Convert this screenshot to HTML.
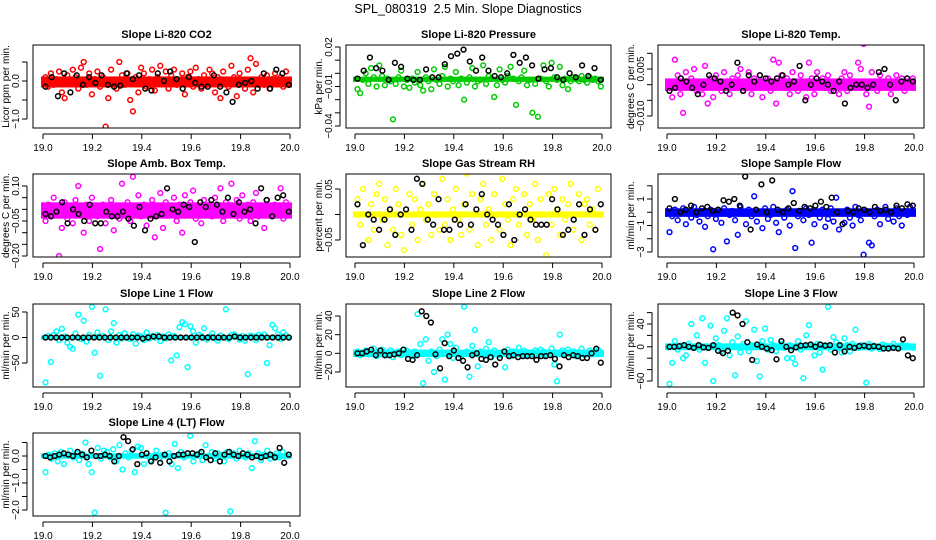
<!DOCTYPE html>
<html><head><meta charset="utf-8">
<style>
html,body{margin:0;padding:0;background:#fff;}
svg{display:block;font-family:"Liberation Sans",sans-serif;}
.t{font-size:11px;font-weight:bold;text-anchor:middle;}
.ax{font-size:10px;}
</style></head>
<body>
<svg id="chart" width="936" height="540" viewBox="0 0 936 540">
<text x="468" y="13" text-anchor="middle" font-size="12.5" xml:space="preserve" style="white-space:pre">SPL_080319  2.5 Min. Slope Diagnostics</text>
</svg>
<script>
// ---- data (estimated from reference) ----
const xTicks = [19.0, 19.2, 19.4, 19.6, 19.8, 20.0];
const xTickLabels = ["19.0", "19.2", "19.4", "19.6", "19.8", "20.0"];

// dense core band of each colored series: [low, high]
const co2Band = [-0.17, 0.12];
const presBand = [-0.0065, -0.0025];
const tempBand = [-0.002, 0.002];
const ambBand = [-0.04, 0.03];
const rhBand = [-0.006, 0.006];
const sfBand = [-0.35, 0.3];
const l1Band = [-4, 4];
const l2Band = [-4, 4];
const l3Band = [-6, 6];
const l4Band = [-0.1, 0.1];

const co2Vals = [0.1,-0.15,0.2,-0.1,0.05,0.25,-0.3,-0.45,0.15,-0.05,0.3,0.1,-0.2,0.35,0.5,-0.1,0.2,-0.35,0.05,0.25,-0.15,0.1,-1.2,-0.45,0.3,0.0,-0.2,0.5,0.15,-0.1,0.2,-0.5,-0.8,0.1,-0.3,0.35,0.2,-0.15,0.05,0.3,-0.25,0.1,0.4,-0.05,0.25,-0.2,0.15,0.3,-0.1,0.0,0.2,-0.35,0.1,0.25,-0.15,0.35,0.05,-0.2,0.15,-0.1,0.3,0.2,-0.3,0.1,-0.45,0.25,0.0,-0.15,0.4,0.1,-0.4,0.2,1.15,-0.2,0.3,0.6,-0.3,0.45,-0.1,0.1,-0.1,0.15,-0.2,0.05,0.2,-0.05,0.1,-0.15,0.25,-0.1];
const co2Black = [-0.15,0.1,-0.4,0.2,-0.3,0.15,-0.1,0.1,-0.05,0.15,-0.1,-0.15,-0.12,0.2,0.05,0.15,-0.2,-0.25,0.2,0.0,0.25,0.05,-0.2,0.1,-0.05,-0.15,-0.15,0.15,-0.15,-0.3,-0.55,-0.1,-0.05,0.0,-0.2,0.2,-0.2,0.3,0.2,-0.1];

const presVals = [-0.012,-0.015,-0.005,0.0,-0.008,0.004,-0.003,-0.01,0.006,-0.002,-0.009,-0.004,-0.006,-0.035,-0.008,-0.003,0.002,-0.01,-0.005,-0.011,-0.004,-0.007,0.001,-0.009,-0.013,-0.003,-0.006,-0.012,0.003,-0.005,-0.008,-0.002,0.005,-0.01,-0.004,-0.006,0.001,-0.009,-0.004,-0.02,-0.007,-0.003,0.004,-0.01,-0.006,-0.005,0.006,-0.008,-0.002,-0.004,-0.018,-0.009,0.003,-0.005,-0.007,-0.002,0.005,-0.004,-0.024,-0.006,-0.003,0.002,-0.009,-0.005,-0.03,-0.008,-0.033,-0.004,0.006,-0.006,-0.01,0.008,-0.003,-0.005,0.005,-0.009,-0.004,-0.012,-0.006,-0.003,-0.004,-0.006,-0.002,-0.005,-0.007,-0.003,-0.005,-0.004,-0.006,-0.01];
const presBlack = [-0.004,0.002,0.012,0.004,0.002,-0.005,0.008,0.005,-0.004,-0.005,-0.005,0.003,-0.003,-0.003,0.007,0.013,0.015,0.018,0.009,0.002,0.012,0.002,-0.002,-0.003,0.0,0.014,0.008,0.012,0.006,-0.004,0.003,0.004,-0.003,-0.005,0.0,-0.003,0.006,-0.002,0.004,-0.005];

const tempVals = [0.001,-0.004,0.008,0.003,-0.003,-0.009,0.004,-0.001,0.002,0.005,-0.002,0.001,-0.003,0.006,-0.006,0.002,-0.004,0.003,0.0,-0.002,0.004,0.001,-0.003,0.002,-0.001,0.003,0.005,-0.002,0.001,0.004,-0.003,0.002,0.0,0.003,-0.004,0.001,0.002,-0.002,0.008,-0.006,0.007,0.003,-0.001,0.002,-0.003,0.004,0.001,-0.002,0.003,0.0,-0.004,0.007,0.002,-0.003,0.004,0.001,0.002,-0.001,0.003,-0.002,0.001,0.0,-0.003,0.002,0.004,-0.002,0.003,0.001,-0.001,0.007,0.005,0.013,-0.003,-0.007,0.004,0.001,-0.002,0.003,0.0,0.001,0.002,-0.003,0.001,0.003,-0.001,0.002,-0.002,0.001,0.0,0.002];
const tempBlack = [-0.002,-0.001,0.002,0.001,-0.001,-0.003,0.0,0.003,0.002,0.001,-0.002,0.0,0.007,-0.002,0.003,0.001,0.003,0.002,0.001,0.002,0.003,0.0,0.001,0.006,-0.005,0.0,0.002,0.001,0.0,-0.002,0.001,-0.006,-0.001,0.0,0.0,-0.001,0.0,0.004,0.005,0.0,-0.005,0.001,0.002,0.001];

const ambVals = [-0.05,0.02,-0.03,0.05,-0.01,-0.2,-0.08,0.03,-0.04,0.01,-0.06,0.04,0.1,-0.02,-0.1,0.02,-0.05,0.05,0.0,-0.03,-0.17,0.02,-0.06,-0.01,0.04,-0.09,0.01,-0.04,0.11,-0.02,0.03,-0.05,0.14,-0.01,0.06,-0.03,0.02,-0.07,0.0,0.04,-0.12,-0.02,0.07,-0.08,0.03,-0.01,-0.24,0.05,-0.05,0.02,-0.1,0.06,-0.02,0.03,0.08,-0.04,0.01,-0.06,0.04,0.0,0.02,-0.03,0.05,-0.01,0.09,-0.05,0.03,-0.02,0.11,0.0,0.04,-0.04,0.06,-0.01,0.02,-0.05,0.03,0.07,-0.03,0.01,-0.08,0.04,0.0,-0.02,0.02,0.0,0.09,-0.04,0.03,-0.01];
const ambBlack = [-0.02,-0.03,-0.01,0.03,-0.06,0.0,-0.02,-0.05,0.02,-0.06,-0.06,-0.01,-0.03,-0.03,-0.01,-0.04,-0.07,0.01,-0.09,-0.04,-0.03,-0.02,0.09,0.0,-0.01,0.02,0.01,-0.14,0.03,0.01,0.04,0.02,-0.01,0.05,-0.02,0.03,-0.01,0.0,-0.06,0.09,0.04,-0.03,0.05,0.06,-0.01];

const rhVals = [0.03,-0.02,0.05,0.0,-0.05,0.02,-0.03,0.04,0.06,-0.01,0.03,-0.06,0.01,-0.03,0.05,0.02,-0.04,-0.07,0.0,0.04,-0.02,0.03,-0.05,0.01,0.06,-0.01,0.02,-0.04,0.04,0.0,-0.03,0.07,-0.02,0.03,-0.05,0.01,0.05,-0.01,-0.04,0.02,0.08,-0.03,0.04,0.0,-0.06,0.03,0.06,-0.02,0.01,-0.05,0.04,0.0,-0.03,0.07,0.02,-0.01,-0.06,0.03,0.05,-0.02,0.0,0.04,-0.04,0.02,-0.01,0.06,-0.05,0.03,0.0,-0.08,0.04,-0.02,0.05,0.01,-0.04,0.03,-0.01,0.02,0.06,-0.03,0.0,0.04,-0.05,0.02,0.03,-0.02,0.01,-0.03,0.05,0.0];
const rhBlack = [0.02,-0.06,0.0,-0.01,-0.03,-0.01,0.01,-0.04,0.0,0.01,-0.03,0.07,0.06,-0.01,-0.02,0.03,-0.03,-0.03,-0.01,-0.02,0.02,-0.02,0.01,0.04,0.0,-0.01,-0.02,-0.04,0.02,-0.05,0.0,0.01,-0.01,-0.02,-0.02,-0.02,0.03,0.01,-0.04,-0.03,-0.01,0.02,-0.04,0.01,-0.03,0.02];

const sfVals = [-1.5,-0.3,0.2,-0.6,-0.1,0.3,-0.9,0.0,-0.4,0.4,-0.2,-0.7,0.1,-1.1,-0.3,0.2,-2.8,-0.5,0.0,-0.8,0.3,-2.2,-0.2,0.1,-0.6,-1.7,0.4,-0.1,-0.9,0.2,-0.3,1.2,-0.7,0.0,-1.2,0.3,-0.5,-0.2,0.4,-0.8,-1.5,0.0,-0.4,0.2,-1.0,1.6,-2.7,-0.3,0.1,-0.6,0.3,-0.2,-2.3,-0.9,0.0,-0.4,0.2,-1.1,-0.5,0.3,-0.7,1.1,-1.3,-0.1,-0.8,0.2,-0.4,-1.0,0.4,-0.2,-0.6,-3.2,0.1,-2.3,-2.5,-0.3,0.2,-0.9,-0.1,0.4,-0.5,0.0,-0.7,0.3,-0.3,-1.0,0.1,-0.2,0.4,0.0];
const sfBlack = [0.3,1.0,0.0,0.2,0.5,0.0,0.3,0.4,0.1,0.2,0.9,0.8,1.0,0.5,2.7,-1.3,0.2,2.1,0.0,2.4,0.2,0.0,0.3,0.7,0.1,0.4,0.3,0.5,0.8,0.4,1.1,0.0,-0.9,0.1,0.0,0.3,0.2,0.0,0.4,0.1,0.2,0.0,0.5,0.3,0.6,0.5];

const l1Vals = [-88,3,-48,5,12,-5,17,2,-10,-18,-22,8,45,-3,33,-8,5,60,-30,10,-75,3,55,-5,12,28,-10,5,-2,8,0,-3,6,-12,4,2,-5,10,-2,3,0,5,-7,2,-2,6,-45,3,-35,20,30,26,-58,22,12,-10,5,3,18,-4,2,8,-2,-6,4,0,55,-3,5,6,2,-4,3,-6,-72,4,2,-5,5,3,6,-50,-15,25,18,6,-3,10,4,0];
const l1Black = [0,0,0,0,0,0,0,0,0,0,0,0,0,0,0,0,0,0,-2,0,2,2,0,0,0,0,0,0,0,0,0,0,0,0,0,2,0,0,0,0,0,0,0,0,0,0];

const l2Vals = [2,-2,0,3,-1,2,5,-3,0,4,-2,1,3,-4,0,2,-2,1,3,0,-3,2,42,10,-32,15,-8,2,-20,-3,4,15,-28,20,10,-5,6,0,-3,50,2,-25,8,25,-14,2,0,5,12,-4,3,0,-2,1,-15,4,-3,2,0,6,-1,3,-2,0,-50,3,-1,4,2,-2,0,5,-12,-30,20,3,-1,4,0,2,-3,1,5,-2,0,3,-1,2,4,0];
const l2Black = [0,0,2,4,-2,3,-2,-2,-1,0,4,-6,-7,-2,45,40,33,-1,-16,11,-3,3,-5,-8,-15,-2,0,-6,-7,-4,-12,-5,2,-3,-2,-4,-3,-3,-3,-7,-3,-3,-2,-6,-14,-2,-4,-2,-3,-5,-5,0,5,-10];

const l3Vals = [-65,-28,10,-5,2,-20,-15,5,40,-2,20,-5,50,-28,-2,37,-60,15,3,-8,28,50,-15,8,-50,18,-10,5,45,-8,3,30,-25,-52,10,32,-5,12,3,-8,0,5,-2,-20,3,-20,-30,10,-5,-55,20,38,2,-15,5,-10,-40,3,70,-5,17,8,-2,-10,15,3,-8,5,30,-2,3,0,-63,5,-3,2,0,-4,4,2,-3,1,5,0,-2,3,-1,2,0,-2];
const l3Black = [0,0,1,3,0,-2,3,-1,-2,3,-7,-11,-7,60,55,40,8,-23,4,0,-3,-6,-22,10,0,-6,-1,2,3,4,0,4,2,3,-10,3,-8,0,-2,1,2,0,1,0,-3,-3,-2,-3,13,-15,-20];

const l4Vals = [-0.6,0.05,-0.1,0.1,-0.2,0.15,-0.3,0.05,0.2,-0.05,0.1,-0.15,0.08,0.5,-0.3,-0.6,-2.1,0.3,-0.1,0.2,0.15,-0.05,0.25,-0.2,0.4,-0.5,0.1,-0.05,0.2,-0.6,0.35,0.3,-0.3,0.1,-0.15,0.0,0.2,-0.1,0.05,-2.1,0.1,-0.3,0.45,-0.45,0.15,-0.05,0.1,0.75,-0.2,0.05,0.1,-0.15,0.4,0.0,0.15,-0.1,0.1,0.05,-0.2,0.15,-2.05,0.1,-0.1,0.2,0.0,-0.05,0.1,-0.45,0.55,0.1,-0.15,0.05,0.2,-0.1,0.0,0.1,-0.05,0.15,0.0,0.05];
const l4Black = [0.0,-0.05,0.0,0.05,0.1,0.05,0.0,0.15,0.05,-0.05,0.2,0.0,0.0,0.05,0.0,-0.2,0.0,0.7,0.55,0.25,-0.3,0.05,0.1,-0.2,-0.05,-0.25,0.05,-0.2,0.0,0.05,0.05,0.1,0.1,0.05,0.15,-0.05,-0.15,0.1,-0.2,0.05,0.15,0.05,0.0,0.1,0.05,-0.05,0.0,-0.05,0.0,0.05,-0.05,0.3,-0.25,0.05];

// ---- layout ----
const NS = "http://www.w3.org/2000/svg";
const svg = document.getElementById("chart");
const cols = [{x0:33,x1:300,a:43,b:290},{x0:346,x1:611,a:355,b:602},{x0:658,x1:924,a:667,b:914}];
const rows = [{y0:45,y1:128},{y0:174,y1:257},{y0:304,y1:387},{y0:433,y1:516}];

function mk(tag, attrs, parent){
  const e = document.createElementNS(NS, tag);
  for (const k in attrs) e.setAttribute(k, attrs[k]);
  (parent||svg).appendChild(e);
  return e;
}

function panel(name, title, ylab, c, r, yA, pA, yB, pB, yTicks, yLabelVals, yLabelText, color, band, vals, black){
  const C = cols[c], R = rows[r];
  const g = mk("g", {});
  
  
  const xs = v => C.a + (v - 19) * (C.b - C.a);
  const ys = v => pA + (v - yA) * (pB - pA) / (yB - yA);
  const clip = mk("clipPath", {id:"clip-" + name}, g);
  mk("rect", {x:C.x0, y:R.y0, width:C.x1-C.x0, height:R.y1-R.y0}, clip);
  const pts = mk("g", {"clip-path":"url(#clip-" + name + ")"}, g);
  
  
  const bt = ys(band[1]), bb = ys(band[0]);
  const br = mk("rect", {x:xs(19.0)-2, y:bt, width:xs(20.0)-xs(19.0)+4, height:bb-bt, fill:color}, pts);
  
  
  const drawSeries = (arr, col, sname) => {
    const n = arr.length;
    arr.forEach((v, i) => {
      const xv = 19.01 + 0.985 * i / (n - 1);
      const cc = mk("circle", {cx:xs(xv).toFixed(1), cy:ys(v).toFixed(1), r:2.4, fill:"none", stroke:col, "stroke-width":1.5}, pts);
      
      
    });
  };
  drawSeries(vals, color, name);
  drawSeries(black, "#000", name + '-black');
  const box = mk("rect", {x:C.x0, y:R.y0, width:C.x1-C.x0, height:R.y1-R.y0, fill:"none", stroke:"#000", "stroke-width":1}, g);
  
  
  const tt = mk("text", {x:(C.x0+C.x1)/2, y:R.y0-7, class:"t"}, g);
  tt.textContent = title;
  
  
  mk("line", {x1:xs(xTicks[0]), x2:xs(xTicks[xTicks.length-1]), y1:R.y1+6, y2:R.y1+6, stroke:"#000"}, g);
  xTicks.forEach((t, i) => {
    mk("line", {x1:xs(t), x2:xs(t), y1:R.y1+6, y2:R.y1+11, stroke:"#000"}, g);
    const tx = mk("text", {x:xs(t), y:R.y1+23, class:"ax", "text-anchor":"middle"}, g);
    tx.textContent = xTickLabels[i];
    
    
  });
  const ax = C.x0 - 6;
  mk("line", {x1:ax, x2:ax, y1:ys(yTicks[0]), y2:ys(yTicks[yTicks.length-1]), stroke:"#000"}, g);
  yTicks.forEach(t => mk("line", {x1:ax-5, x2:ax, y1:ys(t), y2:ys(t), stroke:"#000"}, g));
  yLabelVals.forEach((t, i) => {
    const yy = ys(t);
    const tx = mk("text", {x:0, y:0, class:"ax", "text-anchor":"middle", transform:"translate(" + (ax-8) + "," + yy + ") rotate(-90)"}, g);
    tx.textContent = yLabelText[i];
    
    
  });
  const yl = mk("text", {x:0, y:0, class:"ax", "text-anchor":"middle", transform:"translate(" + (C.x0-24) + "," + ((R.y0+R.y1)/2) + ") rotate(-90)"}, g);
  yl.textContent = ylab;
  
  
}

panel("co2","Slope Li-820 CO2","Licor ppm per min.",0,0, 0,81,-1,119, [0.5,0,-0.5,-1], [0,-1], ["0.0","\u22121.0"], "#ff0000", co2Band, co2Vals, co2Black);
panel("pressure","Slope Li-820 Pressure","kPa per min.",1,0, 0.02,47,-0.04,126, [0.02,0.01,0,-0.01,-0.02,-0.03,-0.04], [0.02,-0.01,-0.04], ["0.02","\u22120.01","\u22120.04"], "#00cc00", presBand, presVals, presBlack);
panel("temp","Slope Li-820 Temp.","degrees C per min.",2,0, 0.005,69,-0.01,116, [0.01,0.005,0,-0.005,-0.01], [0.005,-0.01], ["0.005","\u22120.010"], "#ff00ff", tempBand, tempVals, tempBlack);
panel("ambbox","Slope Amb. Box Temp.","degrees C per min.",0,1, 0.1,186,-0.2,256, [0.1,0.05,0,-0.05,-0.1,-0.15,-0.2], [0.1,-0.05,-0.2], ["0.10","\u22120.05","\u22120.20"], "#ff00ff", ambBand, ambVals, ambBlack);
panel("rh","Slope Gas Stream RH","percent per min.",1,1, 0.05,189,-0.05,240, [0.05,0,-0.05], [0.05,-0.05], ["0.05","\u22120.05"], "#ffff00", rhBand, rhVals, rhBlack);
panel("sampleflow","Slope Sample Flow","ml/min per min.",2,1, 1,199,-3,252, [2,1,0,-1,-2,-3], [1,-1,-3], ["1","\u22121","\u22123"], "#0000ff", sfBand, sfVals, sfBlack);
panel("line1","Slope Line 1 Flow","ml/min per min.",0,2, 50,312,-50,363, [50,0,-50], [50,0,-50], ["50","0","\u221250"], "#00ffff", l1Band, l1Vals, l1Black);
panel("line2","Slope Line 2 Flow","ml/min per min.",1,2, 40,316,-20,372, [40,20,0,-20], [40,20,0,-20], ["40","20","0","\u221220"], "#00ffff", l2Band, l2Vals, l2Black);
panel("line3","Slope Line 3 Flow","ml/min per min.",2,2, 40,324,-60,381, [60,40,20,0,-20,-40,-60], [40,0,-60], ["40","0","\u221260"], "#00ffff", l3Band, l3Vals, l3Black);
panel("line4","Slope Line 4 (LT) Flow","ml/min per min.",0,3, 0,456,-2,510, [0.5,0,-0.5,-1,-1.5,-2], [0,-1,-2], ["0.0","\u22121.0","\u22122.0"], "#00ffff", l4Band, l4Vals, l4Black);
</script>
</body></html>
